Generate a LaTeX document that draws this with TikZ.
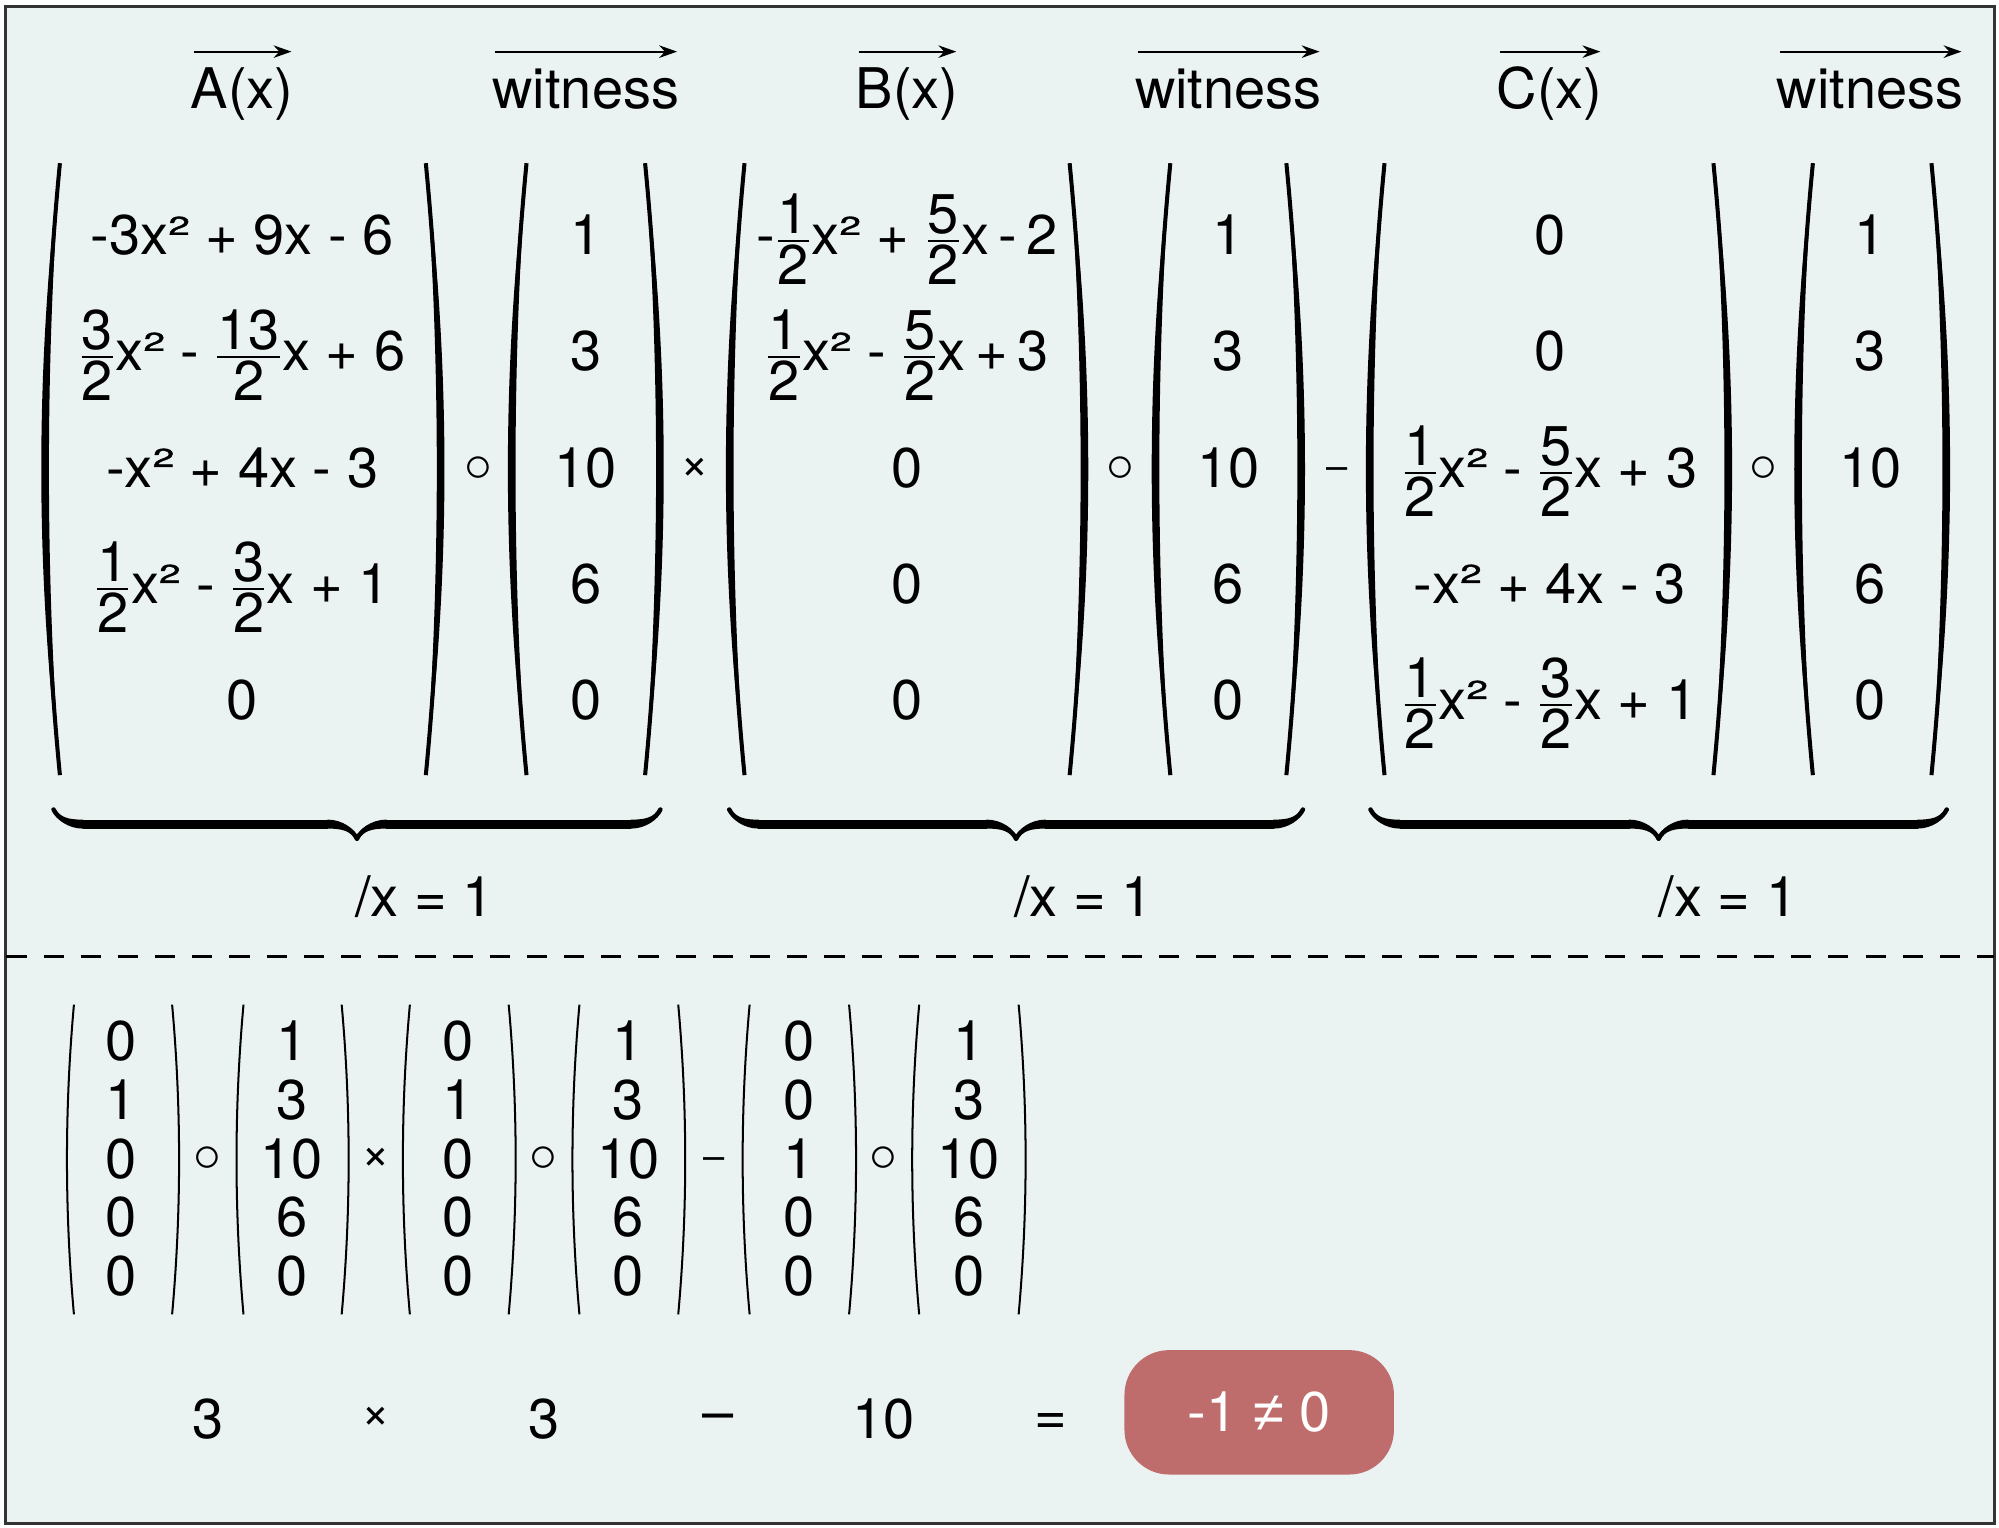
\documentclass[tikz,border=0pt]{standalone}
\usepackage{amsmath}
\usepackage{graphicx}
\usepackage{fontspec}
\setmainfont{TeX Gyre Heros}
\newfontfamily\symfont{Liberation Sans}
\newfontfamily\supfont[FakeBold=1.2]{TeX Gyre Heros}
\usetikzlibrary{arrows.meta,calc,decorations.pathreplacing,calligraphy}
\definecolor{bgmint}{RGB}{235,243,242}
\definecolor{badred}{RGB}{191,108,108}
\definecolor{framegrey}{RGB}{51,51,51}
\newcommand{\fr}[2]{$\genfrac{}{}{}{1}{\mbox{#1}}{\mbox{#2}}$}
\newcommand{\sq}{\raisebox{0.36em}{\scalebox{1.5}[1]{\supfont\fontsize{11.5}{12}\selectfont 2}}}

\begin{document}
\begin{tikzpicture}[x=0.02cm,y=-0.02cm,
  every node/.style={font=\fontsize{25}{30}\selectfont,inner sep=0pt},
  cell/.style={anchor=base},
  op/.style={font=\fontsize{22}{26}\selectfont},
  minus op/.style={anchor=base,font=\fontsize{17}{20}\selectfont},
  ring/.style={font=\fontsize{24}{28}\selectfont},
  vecarrow/.style={-{Stealth[length=8pt,width=5.6pt]},line width=0.8pt},
  bigparen/.style={line width=1.8pt},
  smallparen/.style={line width=0.9pt},
  group brace/.style={decorate,decoration={calligraphic brace,amplitude=13pt,mirror},line width=4pt}]

\useasboundingbox (0,0) rectangle (1568,1198.5);
\draw[framegrey,fill=bgmint,line width=1.3pt] (4.3,5.1) rectangle (1564.7,1195.3);
\draw[dash pattern=on 9pt off 7.6pt,line width=1.3pt] (5,750) -- (1564,750);

% headers with vector arrows
\foreach \n/\x/\t in {hA/190/A(x),hWa/459.5/witness,hB/711.5/B(x),hWb/963.5/witness,hC/1215.5/C(x),hWc/1467/witness}{
  \node[cell] (\n) at (\x,85) {\t};
  \draw[vecarrow] ($(\n.base west)+(2.5,-44.5)$) -- ($(\n.base east)+(-2,-44.5)$);}

% big parentheses
\foreach \px/\d in {47/-1,334/1,413/-1,506/1,584/-1,839/1,918/-1,1009/1,1086/-1,1344/1,1422/-1,1515/1}{
  \draw[bigparen] (\px,128) .. controls ({\px+15.5*\d},288) and ({\px+15.5*\d},448) .. (\px,608);
  \fill (\px,128) .. controls ({\px+19.5*\d},288) and ({\px+19.5*\d},448) .. (\px,608)
    .. controls ({\px+11.5*\d},448) and ({\px+11.5*\d},288) .. cycle;}

% polynomial columns
\foreach \e [count=\i] in {{-3x\sq{} + 9x - 6},{\fr{3}{2}x\sq{} - \fr{13}{2}x + 6},{-x\sq{} + 4x - 3},{\fr{1}{2}x\sq{} - \fr{3}{2}x + 1},0}
  \node[cell] (a\i) at (190,{200+91*(\i-1)}) {\e};
\foreach \e [count=\i] in {{-\fr{1}{2}x\sq{} + \fr{5}{2}x\,-\,2},{\fr{1}{2}x\sq{} - \fr{5}{2}x\,+\,3},0,0,0}
  \node[cell] (b\i) at (711.5,{200+91*(\i-1)}) {\e};
\foreach \e [count=\i] in {0,0,{\fr{1}{2}x\sq{} - \fr{5}{2}x + 3},{-x\sq{} + 4x - 3},{\fr{1}{2}x\sq{} - \fr{3}{2}x + 1}}
  \node[cell] (c\i) at (1215.5,{200+91*(\i-1)}) {\e};

% witness columns
\foreach \w/\col in {459.5/wa,963.5/wb,1467/wc}
  \foreach \v [count=\i] in {1,3,10,6,0}
    \node[cell] (\col\i) at (\w,{200+91*(\i-1)}) {\v};

% operators
\foreach \n/\x in {oa/375,ob/878.5,oc/1383.5}
  \node[ring] (\n) at (\x,368) {$\circ$};
\node[op] (ta) at (545,368) {×};
\node[minus op] (mb) at (1048.7,376.3) {–};

% braces and labels
\foreach \l/\r in {42/518,572/1022,1075/1527}
  \draw[group brace] (\l,635) -- (\r,635);
\foreach \n/\x in {la/333,lb/850,lc/1355.5}
  \node[cell] (\n) at (\x,719) {/x = 1};

% evaluated vectors
\foreach \px/\d in {58/-1,135/1,191/-1,268/1,321.5/-1,399/1,454.5/-1,532/1,588/-1,666/1,721/-1,799/1}
  \draw[smallparen] (\px,788) .. controls ({\px+7.3*\d},869) and ({\px+7.3*\d},950) .. (\px,1031);
\foreach \cx/\vals [count=\j] in {95/{0,1,0,0,0},229/{1,3,10,6,0},359.5/{0,1,0,0,0},493/{1,3,10,6,0},626.5/{0,0,1,0,0},760/{1,3,10,6,0}}
  \foreach \v [count=\i] in \vals
    \node[cell] (s\j\i) at (\cx,{832+46*(\i-1)}) {\v};
\foreach \n/\x in {sa/163,sb/426.5,sc/693}
  \node[ring] (\n) at (\x,909) {$\circ$};
\node[op] (st) at (295,909) {×};
\node[minus op] (sm) at (560,917.3) {–};

% result line
\node[cell] (e1) at (163,1128) {3};
\node[op] (et) at (295,1112) {×};
\node[cell] (e2) at (426.5,1128) {3};
\node[cell] (em) at (563.6,1123.2) {–};
\node[cell] (e3) at (693,1128) {10};
\node[cell] (eq) at (824,1125) {=};
\node[fill=badred,text=white,rounded corners=0.7cm,minimum width=4.228cm,minimum height=1.952cm] (res) at (987.7,1107.8) {-1 {\symfont ≠} 0};
\end{tikzpicture}
\end{document}
